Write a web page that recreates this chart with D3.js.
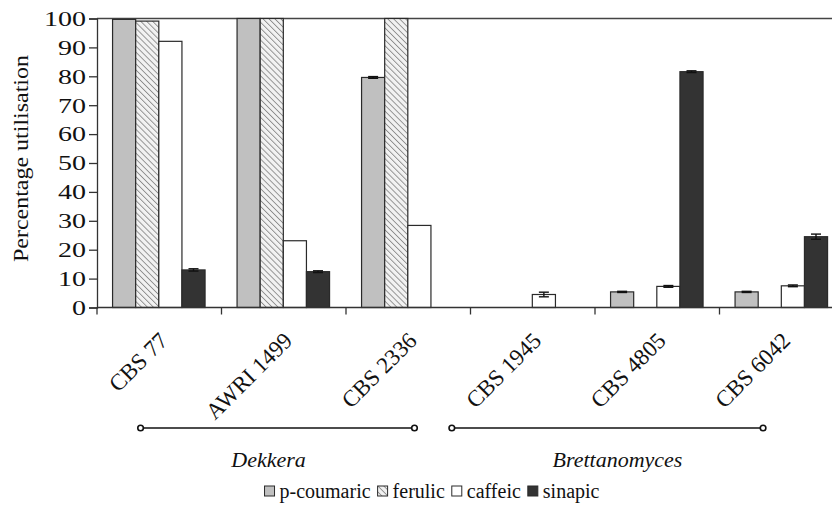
<!DOCTYPE html>
<html><head><meta charset="utf-8">
<script src="https://cdn.jsdelivr.net/npm/d3@7"></script>
</head>
<body style="margin:0;padding:0;background:#fff">
<svg id="chart" width="832" height="505" font-family="Liberation Serif" style="display:block"></svg>
<script>
const categories = ["CBS 77","AWRI 1499","CBS 2336","CBS 1945","CBS 4805","CBS 6042"];
const seriesNames = ["p-coumaric","ferulic","caffeic","sinapic"];
const pCoumaric = [99.7, 100, 79.6, 0, 5.4, 5.4];
const ferulic   = [99.1, 100, 100, 0, 0, 0];
const caffeic   = [92.1, 23.1, 28.4, 4.5, 7.3, 7.5];
const sinapic   = [13.0, 12.4, 0, 0, 81.6, 24.5];
const pCoumaricErr = [0, 0, 0.3, 0, 0.2, 0.2];
const ferulicErr   = [0, 0, 0, 0, 0, 0];
const caffeicErr   = [0, 0, 0, 0.8, 0.3, 0.3];
const sinapicErr   = [0.4, 0.3, 0, 0, 0.3, 0.9];
const yTicks = [0,10,20,30,40,50,60,70,80,90,100];
const groups = [
  {name:"Dekkera", first:"CBS 77", last:"CBS 2336"},
  {name:"Brettanomyces", first:"CBS 1945", last:"CBS 6042"}
];

(function(){
const FONT = "Liberation Serif";
const values = [pCoumaric, ferulic, caffeic, sinapic];
const errs = [pCoumaricErr, ferulicErr, caffeicErr, sinapicErr];

const svg = d3.select("#chart");
const mLeft = 97, mRight = 844, mTop = 18.5, mBottom = 307.5;

const defs = svg.append("defs");
const pat = defs.append("pattern").attr("id","hatch").attr("patternUnits","userSpaceOnUse")
  .attr("width",4.2).attr("height",4.2).attr("patternTransform","rotate(-45)");
pat.append("rect").attr("width",4.2).attr("height",4.2).attr("fill","#f2f2f2");
pat.append("line").attr("x1",0).attr("y1",0).attr("x2",0).attr("y2",4.2)
  .attr("stroke","#8c8c8c").attr("stroke-width",1.8);

const fills = ["#c0c0c0","url(#hatch)","#ffffff","#333333"];

const x = d3.scaleBand().domain(categories).range([mLeft,mRight]).paddingInner(0).paddingOuter(0);
const bw = x.bandwidth();
const xs = d3.scaleBand().domain(seriesNames).range([bw*0.125, bw*0.868]).padding(0);
const y = d3.scaleLinear().domain([0,100]).range([mBottom,mTop]);

svg.append("line").attr("x1",mLeft).attr("x2",832).attr("y1",y(100)).attr("y2",y(100))
  .attr("stroke","#444").attr("stroke-width",1.3);

const rows = [];
categories.forEach((c,i)=>seriesNames.forEach((s,j)=>{
  rows.push({c, s, j, v:values[j][i], e:errs[j][i]});
}));
const barsData = rows.filter(d=>d.v>0);
svg.append("g").selectAll("rect").data(barsData).join("rect")
  .attr("x",d=>x(d.c)+xs(d.s))
  .attr("y",d=>y(d.v))
  .attr("width",xs.bandwidth())
  .attr("height",d=>y(0)-y(d.v))
  .attr("fill",d=>fills[d.j])
  .attr("stroke","#2a2a2a").attr("stroke-width",1.2);

const eb = svg.append("g").attr("stroke","#111").attr("stroke-width",1.4);
rows.filter(d=>d.e>0).forEach(d=>{
  const cx = x(d.c)+xs(d.s)+xs.bandwidth()/2;
  eb.append("line").attr("x1",cx).attr("x2",cx).attr("y1",y(d.v-d.e)).attr("y2",y(d.v+d.e));
  eb.append("line").attr("x1",cx-5).attr("x2",cx+5).attr("y1",y(d.v+d.e)).attr("y2",y(d.v+d.e));
  eb.append("line").attr("x1",cx-5).attr("x2",cx+5).attr("y1",y(d.v-d.e)).attr("y2",y(d.v-d.e));
});

const yAxis = svg.append("g").attr("transform",`translate(${mLeft},0)`)
  .call(d3.axisLeft(y).tickValues(yTicks).tickSize(8).tickPadding(3));
yAxis.attr("font-family",FONT).attr("font-size",20);
yAxis.select(".domain").attr("stroke","#333").attr("stroke-width",1.3);
yAxis.selectAll(".tick line").attr("stroke","#333").attr("stroke-width",1.3);
yAxis.selectAll(".tick text").attr("font-family",FONT).attr("font-size",20).attr("fill","#111")
  .attr("dy","0.34em")
  .each(function(){ const l=this.getComputedTextLength(); d3.select(this).attr("textLength",l*1.4).attr("lengthAdjust","spacingAndGlyphs"); });

const xAxisG = svg.append("g");
xAxisG.append("line").attr("x1",mLeft).attr("x2",832).attr("y1",mBottom).attr("y2",mBottom)
  .attr("stroke","#333").attr("stroke-width",1.3);
xAxisG.selectAll("line.tk").data(categories).join("line").attr("class","tk")
  .attr("x1",d=>x(d)).attr("x2",d=>x(d)).attr("y1",mBottom).attr("y2",mBottom+7)
  .attr("stroke","#333").attr("stroke-width",1.3);
xAxisG.selectAll("text").data(categories).join("text")
  .attr("transform",d=>`translate(${x(d)+bw/2+10},${342}) rotate(-45)`)
  .attr("text-anchor","end").attr("font-family",FONT).attr("font-size",23).attr("fill","#111").text(d=>d);

const yl = svg.append("text").attr("transform",`translate(28,${(55+262)/2}) rotate(-90)`)
  .attr("text-anchor","middle").attr("font-family",FONT).attr("font-size",20).attr("fill","#111")
  .text("Percentage utilisation");
yl.attr("textLength",207).attr("lengthAdjust","spacingAndGlyphs");

const gOff = {"Dekkera":[0.35,0.55,-9],"Brettanomyces":[-0.15,0.35,10]};
groups.forEach(g=>{
  const o = gOff[g.name];
  const x1 = x(g.first)+bw*o[0];
  const x2 = x(g.last)+bw*o[1];
  svg.append("line").attr("x1",x1).attr("x2",x2).attr("y1",428).attr("y2",428)
    .attr("stroke","#111").attr("stroke-width",1.6);
  [x1,x2].forEach(cx=>svg.append("circle").attr("cx",cx).attr("cy",428).attr("r",2.8)
    .attr("fill","#fff").attr("stroke","#111").attr("stroke-width",1.6));
  svg.append("text").attr("x",(x1+x2)/2+o[2]).attr("y",467).attr("text-anchor","middle")
    .attr("font-family",FONT).attr("font-size",22).attr("font-style","italic").attr("fill","#111").text(g.name);
});

const lg = svg.append("g");
let cx = 0;
seriesNames.forEach((s,j)=>{
  lg.append("rect").attr("x",cx).attr("y",-12).attr("width",10).attr("height",10)
    .attr("fill",fills[j]).attr("stroke","#2a2a2a").attr("stroke-width",1);
  const t = lg.append("text").attr("x",cx+15).attr("y",0).attr("font-family",FONT).attr("font-size",20)
    .attr("fill","#111").text(s);
  cx += 15 + t.node().getComputedTextLength() + 7;
});
cx -= 7;
lg.attr("transform",`translate(${432-cx/2},498)`);
})();
</script>
</body></html>
